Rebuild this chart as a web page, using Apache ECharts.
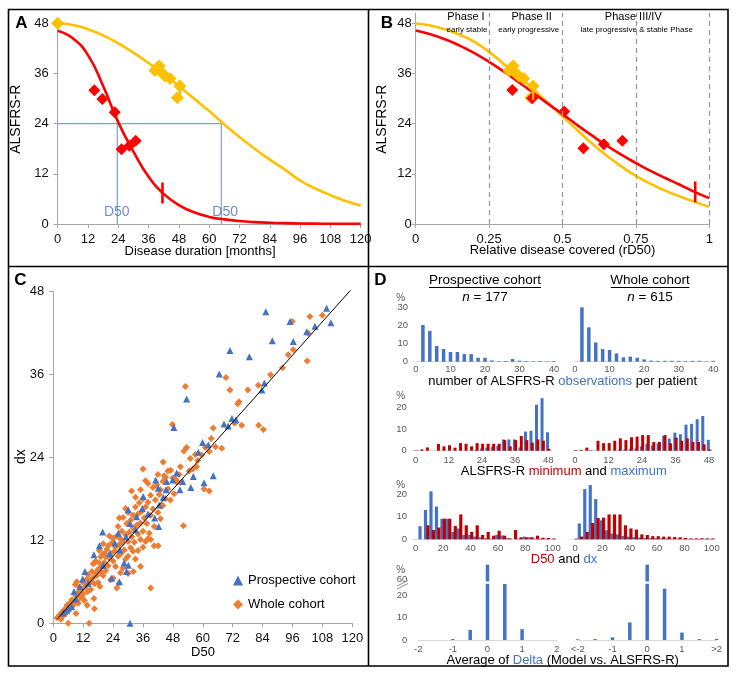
<!DOCTYPE html>
<html>
<head>
<meta charset="utf-8">
<script src="https://cdn.jsdelivr.net/npm/echarts@6/dist/echarts.min.js"></script>
<style>
  html, body { margin: 0; padding: 0; background: #fff; }
  #main { width: 738px; height: 676px; }
</style>
</head>
<body>
<div id="main"></div>
<script>
// ---------- panel A : ALSFRS-R over disease duration ----------
const aMonths = [0, 6, 12, 18, 24, 30, 36, 42, 48, 54, 60, 66, 72, 78, 84, 90, 96, 102, 108, 114, 120];
const aRedFit = [46.2, 44.4, 40.4, 33.0, 24.3, 17.3, 11.3, 7.2, 4.5, 2.8, 1.7, 1.1, 0.7, 0.45, 0.3, 0.2, 0.12, 0.08, 0.05, 0.03, 0.02];
const aYellowFit = [48.0, 47.6, 46.6, 45.1, 43.2, 41.0, 38.5, 35.8, 33.0, 30.0, 27.0, 23.8, 20.8, 18.0, 15.4, 13.0, 10.4, 8.5, 6.9, 5.5, 4.4];
const aRedPts = [[14.5, 32], [17.7, 29.9], [22.6, 26.7], [25.3, 17.9], [28.4, 18.7], [30.9, 19.9]];
const aYellowPts = [[0, 48], [38.5, 36.7], [39.2, 37.2], [40.2, 37.8], [41.2, 36.2], [42.5, 35.4], [44.5, 34.8], [47.4, 30.2], [48.4, 33]];
const aRedTick = [41.5, 4.9, 9.9];      // x, y from, y to
const aYellowTick = [48.4, 29.8, 34.4];
const d50Red = 23.6, d50Yellow = 64.8;
const d50LabelPts = [[23.4, 2.9], [66.3, 2.9]];

// ---------- panel B : relative disease covered ----------
const bRel = [0, 0.05, 0.1, 0.15, 0.2, 0.25, 0.3, 0.35, 0.4, 0.45, 0.5, 0.55, 0.6, 0.65, 0.7, 0.75, 0.8, 0.85, 0.9, 0.95, 1];
const bRedFit = [46.3, 45.4, 44.2, 42.7, 40.9, 38.8, 36.5, 34.0, 31.4, 28.8, 26.3, 23.7, 21.2, 18.8, 16.6, 14.6, 12.7, 11.0, 9.4, 7.7, 6.2];
const bYellowFit = [48.0, 47.5, 46.6, 45.3, 43.6, 41.2, 38.3, 35.5, 32.3, 29.0, 25.8, 22.5, 19.3, 16.4, 13.8, 11.5, 9.6, 8.0, 6.6, 5.3, 4.1];
const bRedPts = [[0.329, 32.1], [0.397, 30.1], [0.506, 26.9], [0.571, 18.1], [0.641, 19.1], [0.704, 19.9]];
const bYellowPts = [[0.318, 36.7], [0.324, 37.2], [0.332, 37.8], [0.34, 36.2], [0.351, 35.4], [0.368, 34.8], [0.392, 30.2], [0.4, 33]];
const bRedTick = [0.952, 5.2, 10.2];
const bYellowTick = [0.4, 29.7, 34.2];
const phaseLines = [0.25, 0.5, 0.75, 1];

// ---------- panel C : D50 vs dx ----------
const cProspPts = [[85.3, 45.0], [95, 43.6], [109.7, 45.5], [111.4, 43.4], [105, 42.9], [101.7, 42.1], [87.9, 40.8], [96.3, 40.7],
  [70.9, 39.4], [78.7, 38.5], [66.6, 36.0], [84.7, 34.7], [83.7, 33.7], [53.5, 32.4], [68.5, 28.8], [70.2, 28.5], [71.7, 29.6],
  [73.3, 29.4], [48.4, 28.3], [59.9, 26.1], [62.2, 25.8], [58.2, 24.7], [64.2, 21.3], [56.2, 21.2], [60.5, 20.3], [55.2, 19.6],
  [51.9, 20.5], [50.8, 19.3], [49.5, 21.7], [47.9, 20.7], [45.5, 20.5], [45.2, 19.3], [41.1, 20.7], [42.1, 19.5], [44.1, 18.2],
  [42.5, 17.1], [42.3, 14.0], [40.7, 15.2], [35.7, 16.6], [30.1, 16.4], [33.4, 15.4], [19.8, 13.2], [18.5, 11.2], [26.1, 13.0],
  [30.8, 14.4], [29.2, 12.5], [24.7, 11.6], [26.8, 10.6], [22.7, 10.1], [30.1, 8.4], [28.4, 8.7], [29.4, 7.5], [26.5, 6.0],
  [23.4, 6.5], [12.7, 7.5], [11.8, 6.4], [10.7, 5.3], [8.3, 4.6], [7.4, 2.4], [5.4, 1.9], [30.8, 0], [16.3, 9.9], [36.1, 18.3],
  [4, 1.5], [6, 2.2], [9, 3.5], [14, 5.8], [20, 8.4], [33, 13.5], [38, 15.8]];
const cWholePts = [[1.5, 0.8], [2.5, 1.2], [3, 0.6], [3.5, 1.6], [4, 1.1], [4.5, 2.0], [5, 1.4], [5.5, 2.6], [6, 1.8], [6.5, 2.9],
  [7, 2.2], [7.5, 3.4], [8, 2.6], [8.5, 3.1], [9, 4.0], [9.5, 3.3], [8.8, 5.6], [10, 4.5], [10, 2.9],
  [10.5, 5.2], [11, 3.8], [11.5, 4.9], [12, 5.9], [12, 4.2], [12.5, 3.3], [13, 5.3], [13.5, 6.4], [13.8, 4.6], [14, 7.0], [14.5, 5.8],
  [15, 6.2], [15, 4.9], [15.5, 7.5], [16, 6.6], [16, 8.6], [16.5, 5.7], [17, 7.3], [17, 9.0], [17.5, 6.9], [18, 7.8], [18, 5.9],
  [18.5, 8.7], [19, 7.4], [19, 9.6], [19.5, 8.2], [20, 6.9], [20, 10.0],
  [20.5, 8.8], [21, 9.6], [21, 7.6], [21.5, 10.7], [22, 8.3], [22, 11.2], [22.5, 9.4], [23, 10.1], [23, 6.3], [23.5, 11.6], [24, 9.0],
  [24, 12.3], [24.5, 10.4], [25, 11.0], [25, 8.2], [25.5, 12.6], [26, 9.7], [26, 14.0], [26.5, 11.4], [27, 12.2], [27, 10.0],
  [27.5, 13.3], [28, 11.7], [28, 15.3], [28.5, 10.6], [29, 12.8], [29, 9.3], [29.5, 14.4], [30, 11.8], [30, 16.0], [30.5, 13.2],
  [31, 14.9], [31, 10.9], [31.5, 12.5],
  [32, 15.6], [32, 13.8], [32.5, 11.7], [33, 16.8], [33.5, 14.2], [34, 12.9], [34, 15.8], [34.5, 17.4], [35, 14.5], [35, 12.1],
  [35.5, 16.2], [36, 13.3], [36, 18.0], [36.5, 15.2], [37, 16.8], [37, 11.8], [37.5, 14.4], [38, 17.5], [38.5, 13.0], [39, 18.5],
  [39, 15.6], [40, 16.5], [40, 19.6], [40.5, 14.0], [41, 17.8], [41.5, 20.0], [42, 16.0], [42.5, 18.6], [43, 15.1], [43, 19.3],
  [44, 17.0], [44, 20.5], [45, 18.0], [45, 21.1],
  [26.5, 15.2], [29, 16.6], [33, 18.2], [35, 19.3], [22.5, 12.6], [20, 11.5], [18.5, 10.5], [42, 21.5], [37, 20.6],
  [24, 6.5], [27, 7.3], [30, 9.7], [34, 10.5], [36, 11.0], [38, 12.2], [32, 10.4],
  [36, 22.3], [38, 20.2], [44.1, 23.3], [31.4, 19.1], [47.1, 22.1], [48, 21], [46, 19.4], [49.5, 20.4], [50.5, 21.5], [52.2, 14.1],
  [39.1, 12.1], [40.5, 11.2], [42.1, 11.2], [39.1, 5.1], [35, 8.2], [32.1, 7.5], [26.4, 5.8], [25.5, 5.1], [18.7, 5.3], [11.6, 3.6],
  [16.3, 3.6], [13.6, 2.6], [16.5, 2.1], [9.1, 1.4], [6.0, 0], [14.4, 0], [9.4, 6.0], [20.7, 10.1], [16.7, 8.8], [30, 7.2], [33, 9.3], [28, 8.0],
  [44.5, 21.3], [46, 22], [48.5, 18.7], [47, 17.8], [43.5, 16.9], [50, 20.4], [51, 22.6], [49, 20.8], [47.8, 28.7], [52.4, 24.9],
  [53.5, 25.4], [55, 23.8], [54.5, 22], [56, 22.3], [57.5, 22.6], [58, 23.5], [57, 24.4], [59.5, 24.3], [61, 25.4], [60.5, 19.4],
  [62.6, 19.1], [62.6, 24.8], [63.4, 26.7], [64.2, 28.2], [65.1, 25.5], [67.6, 25.3], [53, 34.2],
  [69.3, 35.5], [70.9, 33.7], [72.8, 28.9], [74, 31.7], [74.5, 32], [75.6, 28.6], [78.1, 33.7], [82.3, 34.4], [82.4, 28.6],
  [84.3, 28.0], [87.2, 35.9], [92, 36.9], [94.3, 38.8], [96.3, 39.5], [95.9, 43.6], [101.9, 37.9], [102.3, 41.9], [103, 44.3], [108, 44.5]];
const cDiag = [[1.5, 0.6], [120, 48.4]];

// ---------- panel D : histograms (percent) ----------
const obsBins = [0, 2, 4, 6, 8, 10, 12, 14, 16, 18, 20, 22, 24, 26, 28, 30, 32, 34, 36, 38, 40];
const obsProsp = [0, 20.4, 17.1, 8.7, 7.1, 5.4, 5.4, 4.2, 4.2, 2.2, 2.2, 0.7, 0.3, 0.4, 1.5, 0.6, 0.3, 0.3, 0.4, 0.2, 0.4];
const obsWhole = [0, 30.2, 19.1, 10.7, 7.0, 6.5, 4.6, 2.4, 2.8, 2.2, 1.3, 0.6, 0.5, 0.5, 0.5, 0.5, 0.3, 0.5, 0.5, 0.2, 0.5];

const mmBins = [0, 2, 4, 6, 8, 10, 12, 14, 16, 18, 20, 22, 24, 26, 28, 30, 32, 34, 36, 38, 40, 42, 44, 46, 48];
const minProsp = [0.2, 0.6, 1.5, 0, 3.1, 2.0, 2.5, 1.4, 3.5, 3.2, 2.0, 3.5, 3.2, 3.2, 3.2, 3.2, 4.9, 2.0, 4.9, 6.8, 4.9, 3.7, 5.2, 4.6, 0.9];
const maxProsp = [0, 0, 0, 0, 0, 0, 0, 0, 0, 0, 0, 0.3, 1.0, 1.5, 1.8, 2.2, 5.2, 5.2, 5.2, 1.5, 8.8, 9.2, 21.2, 24.2, 8.5];
const minWhole = [0.3, 0.4, 1.4, 0, 4.6, 3.5, 3.5, 4.6, 5.7, 4.9, 6.2, 6.5, 7.2, 7.2, 4.0, 4.0, 7.2, 3.4, 6.0, 4.6, 5.7, 4.0, 4.0, 2.9, 0.6];
const maxWhole = [0, 0, 0, 0.3, 0, 0, 0, 0, 0.3, 0.5, 0.8, 1.0, 2.0, 3.2, 2.5, 3.4, 6.8, 5.6, 8.3, 7.6, 12.0, 12.4, 14.5, 16.0, 5.0];

const dBins = [0, 4, 8, 12, 16, 20, 24, 28, 32, 36, 40, 44, 48, 52, 56, 60, 64, 68, 72, 76, 80, 84, 88, 92, 96, 100];
const d50Prosp = [0, 0, 6.2, 4.1, 5.2, 9.1, 9.1, 5.9, 11, 6.2, 3.3, 6.2, 1.9, 3.3, 1.6, 3.8, 1.6, 0.4, 4.1, 0.9, 0.9, 0.9, 1.6, 0.7, 0.6, 0.4];
const dxProsp = [0, 5.8, 13, 21.2, 14.5, 9.1, 9.1, 3.3, 4.8, 1.9, 1.9, 1.2, 0.9, 0.5, 0.3, 2.0, 1.7, 0.5, 0, 0.3, 1.2, 0.9, 0.3, 0.3, 0.3, 0];
const d50Whole = [0.3, 1.2, 3.3, 7.2, 9.4, 9.6, 11, 11, 11, 6.2, 4.8, 4.3, 2.2, 1.9, 1.4, 1.4, 1.2, 1.2, 1.0, 0.9, 0.6, 0.4, 0.4, 0.5, 0.4, 0.4];
const dxWhole = [0, 7, 22.2, 24, 17.8, 8.4, 4, 2.6, 2.2, 1.5, 1.2, 1.0, 0.8, 0.6, 0.5, 0.5, 0.4, 0.4, 0.3, 0.3, 0.3, 0.2, 0.2, 0.2, 0.2, 0.2];

const deltaBins = ['-2', '-1.5', '-1', '-0.5', '0', '0.5', '1', '1.5', '2'];
const deltaProsp = [0, 0, 0.4, 4.5, 66.5, 24.9, 4.8, 0, 0];
const deltaWhole = [0.3, 0.4, 1.2, 7.8, 66.5, 22.8, 3.3, 0.4, 0.5];

const FONT = '"Liberation Sans", Arial, sans-serif';
const RED = '#ff0000', YEL = '#ffc000', BLUE = '#4472c4', DRED = '#c00000', ORA = '#ed7d31';
const GUIDE = '#7f9fd4';

const myChart = echarts.init(document.getElementById('main'));

// axis for the three big plots
function plotAxis(gridIndex, min, max, interval, labelValues, margin) {
  const ax = {
    gridIndex, type: 'value', min, max,
    splitLine: { show: false },
    axisLine: { show: true, onZero: false, lineStyle: { color: '#a6a6a6' } },
    axisTick: { show: true, length: 4, lineStyle: { color: '#a6a6a6' } },
    axisLabel: { fontSize: 13, fontFamily: FONT, color: '#111', margin: margin || 9 }
  };
  if (interval) ax.interval = interval;
  if (labelValues) {
    ax.axisLabel.customValues = labelValues;
    ax.axisTick.customValues = labelValues;
  }
  return ax;
}

// axes for the small histograms
function catX(gridIndex, cats, boundaryGap, interval, margin, formatter, show) {
  return {
    gridIndex, type: 'category', data: cats, boundaryGap, show: show !== false,
    axisLine: { show: true, lineStyle: { color: '#d9d9d9' } },
    axisTick: { show: false },
    axisLabel: { interval, margin, fontSize: 9.5, color: '#595959', fontFamily: FONT, formatter }
  };
}
function valY(gridIndex, min, max, labels, margin, showLabels) {
  return {
    gridIndex, type: 'value', min, max,
    splitLine: { show: false }, axisLine: { show: false }, axisTick: { show: false },
    axisLabel: { show: showLabels, customValues: labels, margin, fontSize: 9.5, color: '#595959', fontFamily: FONT }
  };
}

function pairs(xs, ys) { return xs.map((x, i) => [x, ys[i]]); }
function curve(idx, xs, ys, color) {
  return { type: 'line', xAxisIndex: idx, yAxisIndex: idx, data: pairs(xs, ys), smooth: true, showSymbol: false, symbol: 'none',
    lineStyle: { color, width: 2.6 }, silent: true, z: 3 };
}
function seg(idx, pts, color, width, z) {
  return { type: 'line', xAxisIndex: idx, yAxisIndex: idx, data: pts, symbol: 'none', showSymbol: false,
    lineStyle: { color, width }, silent: true, z: z || 2 };
}
function dots(idx, pts, color, size, symbol, name) {
  return { type: 'scatter', name, xAxisIndex: idx, yAxisIndex: idx, data: pts, symbol: symbol || 'diamond', symbolSize: size,
    itemStyle: { color, opacity: 1 }, silent: true, z: 4 };
}
function bars(idx, data, color, width, gap) {
  return { type: 'bar', xAxisIndex: idx, yAxisIndex: idx, data, barWidth: width, barGap: gap, itemStyle: { color }, silent: true };
}
function tick(idx, t, color, width) { return seg(idx, [[t[0], t[1]], [t[0], t[2]]], color, width, 5); }

function txt(x, y, text, font, extra) {
  const el = { type: 'text', x, y, silent: true, z: 10,
    style: { text, font: font || ('13px ' + FONT), fill: '#000', align: 'center', verticalAlign: 'middle',
      textAlign: 'center', textVerticalAlign: 'middle' } };
  if (extra) {
    if (extra.rotation) el.rotation = extra.rotation;
    if (extra.rich) el.style.rich = extra.rich;
    if (extra.fill) el.style.fill = extra.fill;
  }
  return el;
}
function ln(x1, y1, x2, y2, color, w) {
  return { type: 'line', shape: { x1, y1, x2, y2 }, style: { stroke: color || '#000', lineWidth: w || 1 }, silent: true, z: 10 };
}

const richBase = { k: { fill: '#000', font: '13px ' + FONT }, b: { fill: BLUE, font: '13px ' + FONT }, r: { fill: DRED, font: '13px ' + FONT } };
const upperOnly = (arr) => arr.map(v => (v > 59 ? v : '-'));
const deltaRightFmt = (v) => (v === '-2' ? '<-2' : v === '2' ? '>2' : v);

const grids = [
  { left: 57.7, top: 23.3, width: 303, height: 200.7 },     // A
  { left: 415.7, top: 13, width: 293.6, height: 211 },      // B
  { left: 53.3, top: 291, width: 299, height: 332.3 },      // C
  { left: 416, top: 304.1, width: 138, height: 57.6 },      // D obs left
  { left: 575, top: 304.1, width: 138.3, height: 57.6 },    // D obs right
  { left: 412.9, top: 396.45, width: 138.1, height: 54.25 },// D min/max left
  { left: 572.2, top: 396.45, width: 139.6, height: 54.25 },// D min/max right
  { left: 413, top: 482.8, width: 142.5, height: 56.5 },    // D D50/dx left
  { left: 572.3, top: 482.8, width: 142.2, height: 56.5 },  // D D50/dx right
  { left: 418.3, top: 583.75, width: 138.4, height: 56.25 },// D delta left (lower)
  { left: 418.3, top: 556.75, width: 138.4, height: 24.75 },// D delta left (upper)
  { left: 577.7, top: 583.75, width: 139, height: 56.25 },  // D delta right (lower)
  { left: 577.7, top: 556.75, width: 139, height: 24.75 }   // D delta right (upper)
].map(g => Object.assign({ outerBoundsMode: 'none', containLabel: false }, g));

const xAxes = [
  plotAxis(0, 0, 120, 12),
  plotAxis(1, 0, 1, 0.25),
  plotAxis(2, 0, 120, 12),
  catX(3, obsBins, false, 4, 3),
  catX(4, obsBins, false, 4, 3),
  catX(5, mmBins, true, 5, 5),
  catX(6, mmBins, true, 5, 5),
  catX(7, dBins, true, 4, 4),
  catX(8, dBins, true, 4, 4),
  catX(9, deltaBins, false, 1, 4),
  catX(10, deltaBins, false, 1, 4, null, false),
  catX(11, deltaBins, false, 1, 4, deltaRightFmt),
  catX(12, deltaBins, false, 1, 4, null, false)
];
const yAxes = [
  plotAxis(0, 0, 48, 12),
  plotAxis(1, 0, 50.5, null, [0, 12, 24, 36, 48], 4),
  plotAxis(2, 0, 48, 12),
  valY(3, 0, 32, [0, 10, 20, 30], 8, true),
  valY(4, 0, 32, [0, 10, 20, 30], 8, false),
  valY(5, 0, 25, [0, 10, 20], 6, true),
  valY(6, 0, 25, [0, 10, 20], 6, false),
  valY(7, 0, 25, [0, 10, 20], 6, true),
  valY(8, 0, 25, [0, 10, 20], 6, false),
  valY(9, 0, 25, [0, 10, 20], 11, true),
  valY(10, 59, 70, [60], 11, true),
  valY(11, 0, 25, [0, 10, 20], 11, false),
  valY(12, 59, 70, [60], 11, false)
];

const series = [
  // A
  seg(0, [[0, 24], [d50Yellow, 24]], GUIDE, 1.2, 1),
  seg(0, [[d50Red, 0], [d50Red, 24]], GUIDE, 1.2, 1),
  seg(0, [[d50Yellow, 0], [d50Yellow, 24]], GUIDE, 1.2, 1),
  { type: 'scatter', xAxisIndex: 0, yAxisIndex: 0, data: d50LabelPts, symbolSize: 0, silent: true, z: 6,
    label: { show: true, position: 'inside', formatter: 'D50', fontSize: 14, fontFamily: FONT, color: '#4a72c0' } },
  curve(0, aMonths, aYellowFit, YEL),
  curve(0, aMonths, aRedFit, RED),
  dots(0, aYellowPts, YEL, 13),
  dots(0, aRedPts, RED, 12),
  tick(0, aRedTick, RED, 2.6),
  tick(0, aYellowTick, YEL, 2.2),
  // B
  Object.assign(curve(1, bRel, bYellowFit, YEL), {
    markLine: { silent: true, symbol: 'none', label: { show: false },
      lineStyle: { type: [5, 4], color: '#9a9a9a', width: 1.3 }, data: phaseLines.map(v => ({ xAxis: v })) }
  }),
  curve(1, bRel, bRedFit, RED),
  dots(1, bYellowPts, YEL, 13),
  dots(1, bRedPts, RED, 12),
  tick(1, bRedTick, RED, 2.6),
  tick(1, bYellowTick, YEL, 2.2),
  // C
  seg(2, cDiag, '#000', 1, 6),
  dots(2, cWholePts, ORA, 7, 'diamond', 'Whole cohort'),
  dots(2, cProspPts, BLUE, 7, 'triangle', 'Prospective cohort'),
  // D observations
  bars(3, obsProsp, BLUE, 3.5),
  bars(4, obsWhole, BLUE, 3.5),
  // D min / max
  bars(5, maxProsp, BLUE, 3, '-55%'),
  bars(5, minProsp, DRED, 3, '-55%'),
  bars(6, maxWhole, BLUE, 3, '-55%'),
  bars(6, minWhole, DRED, 3, '-55%'),
  // D D50 / dx
  bars(7, dxProsp, BLUE, 3.2, '-25%'),
  bars(7, d50Prosp, DRED, 3.2, '-25%'),
  bars(8, dxWhole, BLUE, 3.2, '-25%'),
  bars(8, d50Whole, DRED, 3.2, '-25%'),
  // D delta (broken axis)
  bars(9, deltaProsp, BLUE, 3.5),
  bars(10, upperOnly(deltaProsp), BLUE, 3.5),
  bars(11, deltaWhole, BLUE, 3.5),
  bars(12, upperOnly(deltaWhole), BLUE, 3.5)
];

const graphics = [
  // frame
  { type: 'rect', shape: { x: 8.5, y: 9.5, width: 719.5, height: 656.5 }, style: { stroke: '#000', fill: null, lineWidth: 1.6 }, silent: true, z: 10 },
  ln(368.5, 9.5, 368.5, 666, '#000', 1.6),
  ln(8.5, 266.5, 728, 266.5, '#000', 1.6),
  // panel letters
  txt(21.3, 23.3, 'A', 'bold 17px ' + FONT),
  txt(387, 23.3, 'B', 'bold 17px ' + FONT),
  txt(20.5, 280.5, 'C', 'bold 17px ' + FONT),
  txt(380.3, 280.5, 'D', 'bold 17px ' + FONT),
  // A titles
  txt(16, 119.2, 'ALSFRS-R', '14px ' + FONT, { rotation: Math.PI / 2 }),
  txt(200, 251.3, 'Disease duration [months]', '13px ' + FONT),
  // B titles
  txt(382.5, 119.2, 'ALSFRS-R', '14px ' + FONT, { rotation: Math.PI / 2 }),
  txt(562.5, 250.7, 'Relative disease covered (rD50)', '13px ' + FONT),
  txt(466, 16.7, 'Phase I', '11px ' + FONT),
  txt(467, 29.3, 'early stable', '8px ' + FONT),
  txt(531.7, 16.7, 'Phase II', '11px ' + FONT),
  txt(528.7, 29.3, 'early progressive', '8px ' + FONT),
  txt(633.3, 16.7, 'Phase III/IV', '11px ' + FONT),
  txt(636.7, 29.3, 'late progressive & stable Phase', '8px ' + FONT),
  // C titles
  txt(203, 652.3, 'D50', '13px ' + FONT),
  txt(21, 456.7, 'dx', '14px ' + FONT, { rotation: Math.PI / 2 }),
  // D headings
  txt(485, 280.7, 'Prospective cohort', '13.5px ' + FONT),
  ln(429, 287.5, 541, 287.5, '#000', 1),
  txt(485, 297, '{i|n} = 177', '13.5px ' + FONT, { rich: { i: { font: 'italic 13.5px ' + FONT, fill: '#000' } } }),
  txt(650, 280.7, 'Whole cohort', '13.5px ' + FONT),
  ln(610.7, 287.5, 689.3, 287.5, '#000', 1),
  txt(650, 297, '{i|n} = 615', '13.5px ' + FONT, { rich: { i: { font: 'italic 13.5px ' + FONT, fill: '#000' } } }),
  // D histogram captions
  txt(562.7, 381.7, '{k|number of ALSFRS-R }{b|observations}{k| per patient}', '13px ' + FONT, { rich: richBase }),
  txt(563.8, 471, '{k|ALSFRS-R }{r|minimum}{k| and }{b|maximum}', '13px ' + FONT, { rich: richBase }),
  txt(564, 559.3, '{r|D50}{k| and }{b|dx}', '13px ' + FONT, { rich: richBase }),
  txt(562.7, 660.7, '{k|Average of }{b|Delta}{k| (Model vs. ALSFRS-R)}', '13px ' + FONT, { rich: richBase }),
  // % signs
  txt(400.7, 298, '%', '10px ' + FONT, { fill: '#595959' }),
  txt(400.7, 396.7, '%', '10px ' + FONT, { fill: '#595959' }),
  txt(400.7, 485.7, '%', '10px ' + FONT, { fill: '#595959' }),
  txt(400.7, 570, '%', '10px ' + FONT, { fill: '#595959' }),
  // axis break marks
  ln(397, 586, 408, 580.5, '#8c8c8c', 1),
  ln(397, 589, 408, 583.5, '#8c8c8c', 1)
];

myChart.setOption({
  animation: false,
  backgroundColor: '#fff',
  grid: grids,
  xAxis: xAxes,
  yAxis: yAxes,
  legend: {
    data: ['Prospective cohort', 'Whole cohort'],
    orient: 'vertical', left: 228, top: 569,
    itemWidth: 10, itemHeight: 10, itemGap: 11, selectedMode: false,
    textStyle: { fontSize: 13, fontFamily: FONT, color: '#000' }
  },
  graphic: graphics,
  series
});
</script>
</body>
</html>
